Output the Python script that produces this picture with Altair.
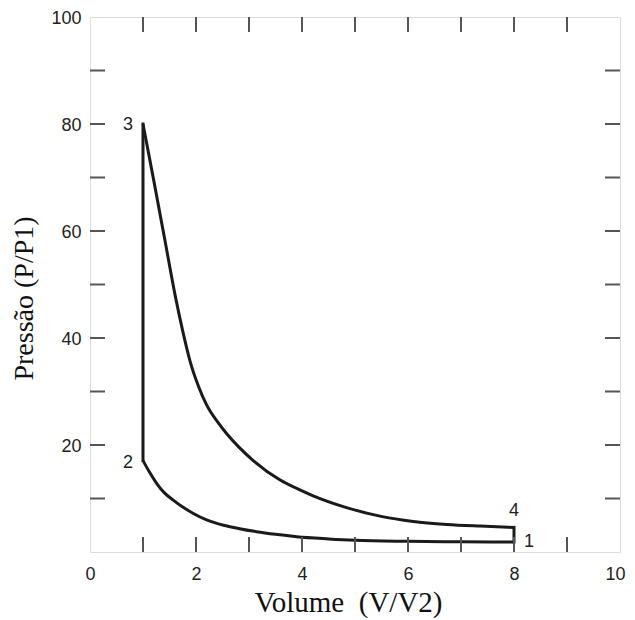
import altair as alt
import pandas as pd

# Compression curve 2 -> 1 (x increasing)
comp_x = [1.0, 1.13, 1.26, 1.4, 1.57, 1.75, 1.95, 2.2, 2.52, 2.8, 3.14, 3.5, 3.9, 4.5, 5.0, 6.0, 7.0, 8.0]
comp_y = [17.1, 14.8, 12.8, 11.1, 9.7, 8.4, 7.2, 6.0, 5.0, 4.4, 3.8, 3.3, 2.85, 2.45, 2.2, 2.0, 1.9, 1.85]

# Expansion curve 3 -> 4
exp_x = [1.0, 1.2, 1.4, 1.6, 1.75, 1.89, 2.05, 2.2, 2.4, 2.58, 2.8, 3.08, 3.58, 3.96, 4.21, 4.84, 5.47, 6.1, 6.73, 7.36, 8.0]
exp_y = [80, 69.6, 59, 48.3, 41.3, 35.6, 30.9, 27.5, 24.4, 22.1, 19.7, 17.1, 13.5, 11.6, 10.5, 8.3, 6.7, 5.7, 5.15, 4.84, 4.6]

# Isochoric segments 2 -> 3 and 4 -> 1
seg_x = [1.0, 8.0]
seg_y1 = [17.1, 1.85]
seg_y2 = [80.0, 4.6]

state_labels = ["1", "2", "3", "4"]
state_x = [8.0, 1.0, 1.0, 8.0]
state_y = [1.85, 17.1, 80.0, 4.6]

x_minor = [1, 2, 3, 4, 5, 6, 7, 8, 9]
y_minor = [10, 20, 30, 40, 50, 60, 70, 80, 90]
x_labels = [0, 2, 4, 6, 8, 10]
y_labels = [20, 40, 60, 80, 100]

W, H = 530, 535
TICK = 15
FRAME = "#555555"
INK = "#1a1a1a"

xs = alt.Scale(domain=[0, 10], nice=False, zero=False)
ys = alt.Scale(domain=[0, 100], nice=False, zero=False)

xaxis = alt.Axis(values=x_labels, title="Volume\u2002(V/V2)", grid=False, domain=False, ticks=False,
                 labelPadding=13, labelFontSize=18, labelFont="Liberation Sans", labelColor="#222222",
                 labelFlush=True, labelFlushOffset=5,
                 titleFont="Liberation Serif", titleFontSize=29, titleFontWeight="normal",
                 titleColor="#111111", titlePadding=5, titleX=258)
yaxis = alt.Axis(values=y_labels, title="Pressão (P/P1)", grid=False, domain=False, ticks=False,
                 labelPadding=9, labelFontSize=18, labelFont="Liberation Sans", labelColor="#222222",
                 labelFlush=False, labelOffset=1,
                 titleFont="Liberation Serif", titleFontSize=28, titleFontWeight="normal",
                 titleColor="#111111", titlePadding=12, titleY=281)

comp = pd.DataFrame({"x": comp_x, "y": comp_y})
expn = pd.DataFrame({"x": exp_x, "y": exp_y})
segs = pd.DataFrame({"x": seg_x, "y1": seg_y1, "y2": seg_y2})

comp_line = alt.Chart(comp).mark_line(color=INK, strokeWidth=3, interpolate="monotone").encode(
    x=alt.X("x:Q", scale=xs, axis=xaxis),
    y=alt.Y("y:Q", scale=ys, axis=yaxis),
)
exp_line = alt.Chart(expn).mark_line(color=INK, strokeWidth=3, interpolate="monotone").encode(
    x=alt.X("x:Q", scale=xs), y=alt.Y("y:Q", scale=ys))
seg_rule = alt.Chart(segs).mark_rule(color=INK, strokeWidth=3, strokeCap="square").encode(
    x=alt.X("x:Q", scale=xs), y=alt.Y("y1:Q", scale=ys), y2="y2:Q")

xt = pd.DataFrame({"v": x_minor})
yt = pd.DataFrame({"v": y_minor})
rule_style = dict(color=FRAME, strokeWidth=2)
bottom = alt.Chart(xt).mark_rule(**rule_style).encode(
    x=alt.X("v:Q", scale=xs), y=alt.value(H), y2=alt.value(H - TICK))
top = alt.Chart(xt).mark_rule(**rule_style).encode(
    x=alt.X("v:Q", scale=xs), y=alt.value(0), y2=alt.value(TICK))
left = alt.Chart(yt).mark_rule(**rule_style).encode(
    y=alt.Y("v:Q", scale=ys), x=alt.value(0), x2=alt.value(TICK))
right = alt.Chart(yt).mark_rule(**rule_style).encode(
    y=alt.Y("v:Q", scale=ys), x=alt.value(W), x2=alt.value(W - TICK))

dxs = [15, -15, -15, 0]
dys = [0, 2, 1, -16]
texts = []
for i in range(len(state_labels)):
    d = pd.DataFrame({"t": [state_labels[i]], "x": [state_x[i]], "y": [state_y[i]]})
    texts.append(alt.Chart(d).mark_text(dx=dxs[i], dy=dys[i], font="Liberation Sans", fontSize=18,
                                        color="#222222", baseline="middle", align="center").encode(
        x=alt.X("x:Q", scale=xs), y=alt.Y("y:Q", scale=ys), text="t:N"))

chart = alt.layer(comp_line, exp_line, seg_rule, bottom, top, left, right, *texts).properties(
    width=W, height=H,
    autosize=alt.AutoSizeParams(type="none"),
    padding={"left": 82, "top": 9, "right": 7, "bottom": 72},
).configure_view(stroke=FRAME, strokeWidth=2).configure(background="white")

chart.save("out.html", embed_options={"renderer": "svg", "actions": False})
